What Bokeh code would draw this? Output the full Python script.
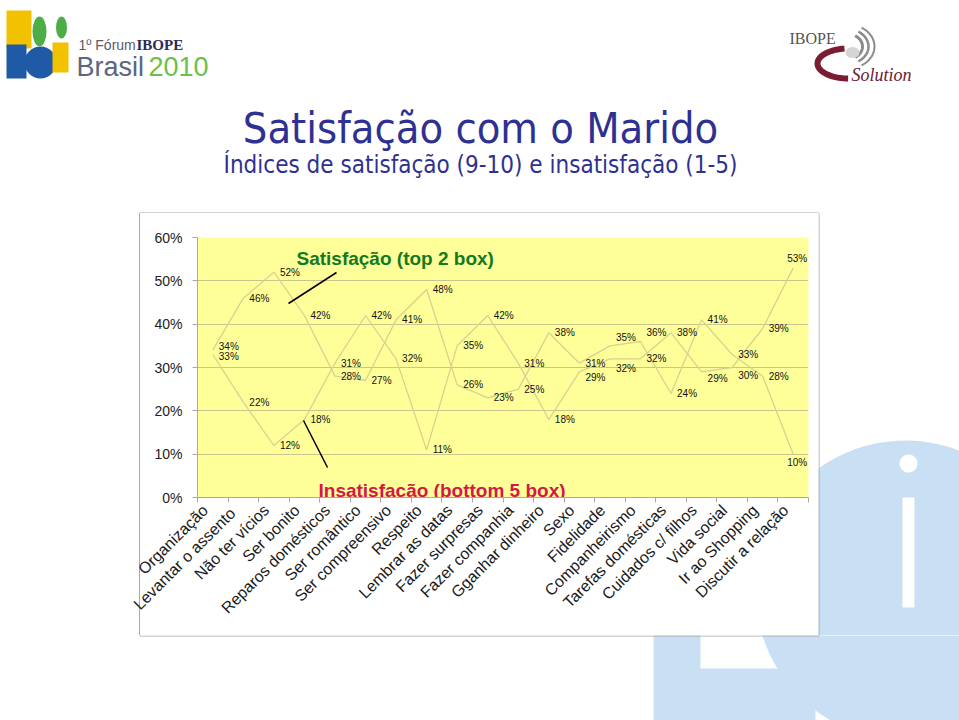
import numpy as np
from bokeh.plotting import figure
from bokeh.models import Range1d, FixedTicker, PrintfTickFormatter, ColumnDataSource
from bokeh.layouts import column, row
from bokeh.embed import file_html
from bokeh.resources import INLINE
from bokeh.core.properties import value

# ---------------- data ----------------
categories = ["Organização", "Levantar  o assento", "Não ter vícios", "Ser bonito",
              "Reparos domésticos", "Ser romântico", "Ser compreensivo", "Respeito",
              "Lembrar as datas", "Fazer surpresas", "Fazer companhia", "Gganhar dinheiro",
              "Sexo", "Fidelidade", "Companheirismo", "Tarefas domésticas",
              "Cuidados c/ filhos", "Vida social", "Ir ao Shopping", "Discutir a relação"]
satisfacao = [34, 46, 52, 42, 28, 27, 41, 48, 26, 23, 25, 38, 31, 35, 36, 24, 41, 33, 28, 10]
insatisfacao = [33, 22, 12, 18, 31, 42, 32, 11, 35, 42, 31, 18, 29, 32, 32, 38, 29, 30, 39, 53]
y_ticks = [0, 10, 20, 30, 40, 50, 60]

title_text = "Satisfação com o Marido"
subtitle_text = "Índices de satisfação (9-10) e insatisfação (1-5)"
sat_name = "Satisfação (top 2 box)"
insat_name = "Insatisfação (bottom 5 box)"

# ---------------- styles ----------------
W, H = 959, 720
BOX_L, BOX_R, BOX_T, BOX_B = 140, 818, 213, 635
CH_L = 112                      # left edge of the chart figure (labels may pass the box edge)
FX0, FX1, FY0, FY1 = 197, 808, 237, 497
WM = "#C9DFF3"
BORDER = "#A8A8A8"
NAVY = "#2F3192"
FONT = "Liberation Sans"
GREEN = "#127A20"
RED = "#D4174A"
LINE = "#D8D190"


def no_align(f):
    try:
        f.frame_align = False
    except Exception:
        pass


def rect_patch(f, x0, x1, y0, y1, color):
    f.patch([x0, x1, x1, x0], [y0, y0, y1, y1], fill_color=color, line_color=None)


def canvas(x0, x1, y0, y1):
    f = figure(width=x1 - x0, height=y1 - y0, x_range=Range1d(x0, x1), y_range=Range1d(y1, y0),
               output_backend="svg", toolbar_location=None, min_border=0,
               x_axis_location=None, y_axis_location=None)
    no_align(f)
    f.grid.visible = False
    f.outline_line_color = None
    f.background_fill_color = "white"
    f.border_fill_color = "white"
    # watermark (light blue logo, bottom right)
    t = np.linspace(0, 2 * np.pi, 90)
    f.patch(905 + 150 * np.cos(t), 590 + 150 * np.sin(t), fill_color=WM, line_color=None)
    rect_patch(f, 653, 700, 600, 720, WM)
    rect_patch(f, 698, 815, 668, 720, WM)
    rect_patch(f, 902, 914, 497, 607, "white")
    f.patch(908 + 9 * np.cos(t), 463 + 9 * np.sin(t), fill_color="white", line_color=None)
    # chart box border
    f.line([BOX_L - 0.5, BOX_R + 0.5, BOX_R + 0.5, BOX_L - 0.5, BOX_L - 0.5],
           [BOX_T - 0.5, BOX_T - 0.5, BOX_B + 0.5, BOX_B + 0.5, BOX_T - 0.5],
           line_color=BORDER, line_width=1)
    return f


def txt(f, x, y, s, size, color, font=FONT, style="normal", align="left"):
    f.text(x=[x], y=[y], text=[s], text_font=value(font), text_font_size=size,
           text_font_style=style, text_color=color, text_align=align, text_baseline="middle")


# ---------------- header ----------------
hd = canvas(0, W, 0, BOX_T)
# left logo (approximation)
hd.quad(left=[6], right=[31], top=[10], bottom=[48], fill_color="#F2C200", line_color=None)
hd.quad(left=[6], right=[26], top=[44], bottom=[78], fill_color="#1F5AA6", line_color=None)
hd.circle(x=[40], y=[62], radius=16, fill_color="#1F5AA6", line_color=None)
hd.ellipse(x=[39], y=[31], width=14, height=30, fill_color="#4DAE48", line_color=None)
hd.quad(left=[52], right=[68], top=[42], bottom=[72], fill_color="#F2C200", line_color=None)
hd.ellipse(x=[61], y=[27], width=11, height=22, fill_color="#4DAE48", line_color=None)
txt(hd, 78, 44, "1º Fórum", "14px", "#5A5A6A")
txt(hd, 136, 44, "IBOPE", "15px", "#2B2B55", font="Liberation Serif", style="bold")
txt(hd, 76, 66, "Brasil", "27px", "#5B6680")
txt(hd, 148, 66, "2010", "27px", "#6BBF4A")
# right logo (approximation)
txt(hd, 789, 38, "IBOPE", "16px", "#555555", font="Liberation Serif")
t = np.linspace(-1.0, 1.0, 40)
for r, w in [(16, 3), (22, 2.5), (28, 2)]:
    hd.line(846 + r * np.cos(t), 46 - r * np.sin(t) * 0.8, line_color="#8A8A8A", line_width=w)
t2 = np.linspace(1.7, 4.7, 40)
hd.line(848 + 31 * np.cos(t2), 63 - 15 * np.sin(t2), line_color="#7A1C32", line_width=6)
hd.ellipse(x=[852], y=[52], width=14, height=11, fill_color="#D5D5D5", line_color=None)
txt(hd, 851, 74, "Solution", "18px", "#6D1A30", font="Liberation Serif", style="italic")
# titles
txt(hd, 480, 127, title_text, "43px", NAVY, font="DejaVu Sans Condensed", align="center")
txt(hd, 480, 164, subtitle_text, "24px", NAVY, font="DejaVu Sans Condensed", align="center")

# ---------------- fillers ----------------
lf = canvas(0, CH_L, BOX_T, BOX_B)
rt = canvas(BOX_R, W, BOX_T, BOX_B)
bt = canvas(0, W, BOX_B, H)

# ---------------- chart ----------------
n = len(categories)
xs = np.arange(n) + 0.5
label_pos = [float(x) - 0.25 for x in xs]     # rotated labels end a little left of centre
nudge_sat = {0: -4, 13: -8, 14: -9, 19: 8}
nudge_insat = {0: 2, 12: 6, 13: 10, 16: 7, 17: 8, 19: -9}
src = ColumnDataSource(dict(
    x=xs, sat=satisfacao, insat=insatisfacao,
    sat_lbl=[f"{v}%" for v in satisfacao], insat_lbl=[f"{v}%" for v in insatisfacao],
    dx=[6] * (n - 1) + [-6],
    dy_sat=[nudge_sat.get(i, 0) for i in range(n)],
    dy_insat=[nudge_insat.get(i, 0) for i in range(n)],
))

p = figure(width=BOX_R - CH_L, height=BOX_B - BOX_T, x_range=Range1d(0, n), y_range=Range1d(0, 60),
           output_backend="svg", toolbar_location=None,
           min_border_left=FX0 - CH_L, min_border_right=BOX_R - FX1,
           min_border_top=FY0 - BOX_T, min_border_bottom=BOX_B - FY1)
no_align(p)
edge = BOX_L - CH_L
p.styles = {"background": f"linear-gradient(to right, #ffffff 0px, #ffffff {edge - 1}px, "
                          f"{BORDER} {edge - 1}px, {BORDER} {edge}px, #ffffff {edge}px)"}
p.background_fill_color = "#FFFF99"
p.border_fill_color = None
p.outline_line_color = None
p.xgrid.visible = False
p.ygrid.ticker = FixedTicker(ticks=y_ticks)
p.ygrid.grid_line_color = "#C9C58C"
p.ygrid.grid_line_width = 1

p.yaxis.ticker = FixedTicker(ticks=y_ticks)
p.yaxis.formatter = PrintfTickFormatter(format="%d%%")
p.yaxis.major_label_text_font = FONT
p.yaxis.major_label_text_font_size = "14px"
p.yaxis.major_label_text_color = "#222222"
p.yaxis.axis_line_color = BORDER
p.yaxis.major_tick_line_color = BORDER
p.yaxis.major_tick_out = 5
p.yaxis.major_tick_in = 0
p.yaxis.minor_tick_line_color = None
p.yaxis.major_label_standoff = 10

p.xaxis.ticker = FixedTicker(ticks=label_pos, minor_ticks=list(range(n + 1)))
p.xaxis.major_label_overrides = {x: c for x, c in zip(label_pos, categories)}
p.xaxis.major_label_orientation = np.pi / 4
p.xaxis.major_tick_line_color = None
p.xaxis.minor_tick_line_color = BORDER
p.xaxis.minor_tick_out = 5
p.xaxis.minor_tick_in = 0
p.xaxis.axis_line_color = BORDER
p.xaxis.major_label_text_font = FONT
p.xaxis.major_label_text_font_size = "16px"
p.xaxis.major_label_text_color = "#1A1A1A"
p.xaxis.major_label_standoff = 4

p.line("x", "sat", source=src, line_color=LINE, line_width=1.3)
p.line("x", "insat", source=src, line_color=LINE, line_width=1.3)
for col, lbl, dy in [("sat", "sat_lbl", "dy_sat"), ("insat", "insat_lbl", "dy_insat")]:
    p.text(x="x", y=col, text=lbl, source=src, x_offset="dx", y_offset=dy, text_font=value(FONT),
           text_font_size="10px", text_color="#111111", text_baseline="middle", text_align="left")


def XP(px):
    return (px - FX0) * n / (FX1 - FX0)


def YP(py):
    return (FY1 - py) * 60 / (FY1 - FY0)


p.text(x=[XP(296)], y=[YP(258)], text=[sat_name], text_font=value(FONT), text_font_style="bold",
       text_font_size="19px", text_color=GREEN, text_baseline="middle", text_align="left")
p.text(x=[XP(318)], y=[YP(490)], text=[insat_name], text_font=value(FONT), text_font_style="bold",
       text_font_size="19px", text_color=RED, text_baseline="middle", text_align="left")
p.segment(x0=[XP(288), XP(303)], y0=[YP(303), YP(420)], x1=[XP(336), XP(327)], y1=[YP(272), YP(467)],
          line_color="black", line_width=1.5)

layout = column(hd, row(lf, p, rt), bt)
open("out.html", "w").write(file_html(layout, INLINE))
